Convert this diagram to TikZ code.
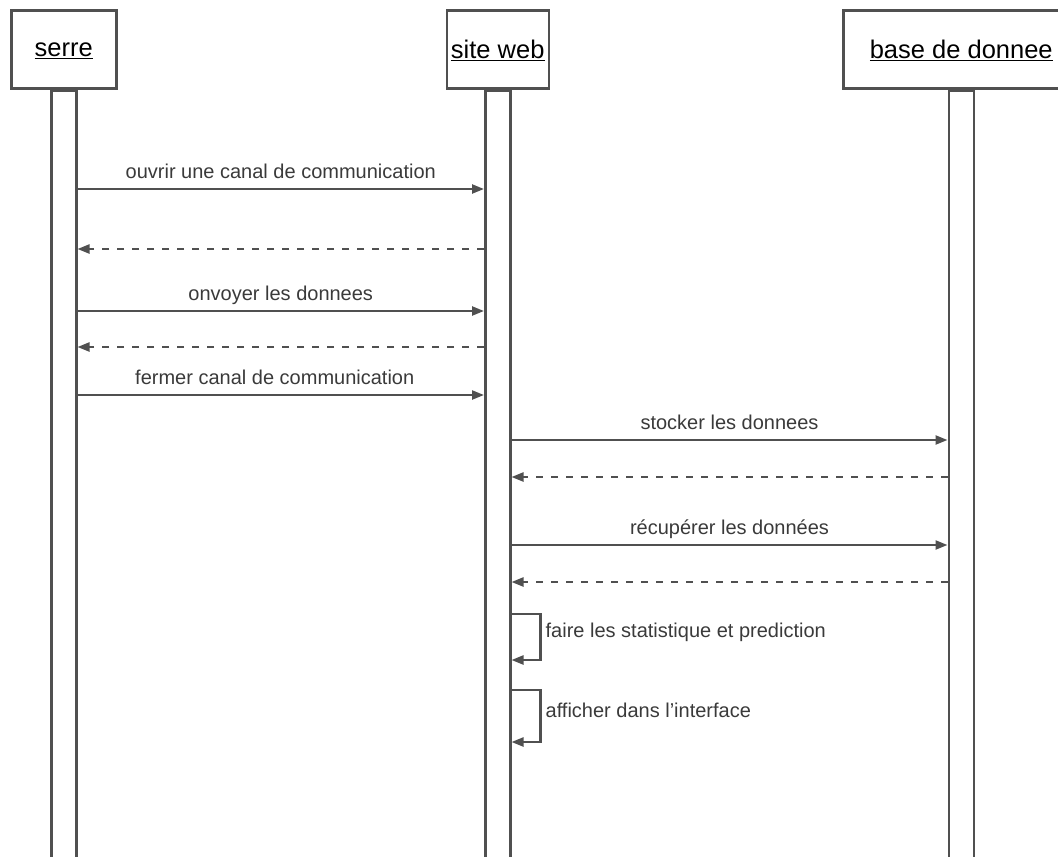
\documentclass[tikz,border=0pt]{standalone}
\usepackage{fontspec}
\setmainfont{Liberation Sans}
\usetikzlibrary{arrows.meta, positioning, calc}
\definecolor{linegray}{HTML}{505050}
\definecolor{textgray}{HTML}{3A3A3A}

\tikzset{
    header/.style={draw=linegray, line width=2.5pt, rectangle, fill=white, minimum height=78pt, inner sep=0pt, text depth=0pt, font=\fontsize{25.5}{30}\selectfont},
    lifebar/.style={draw=linegray, line width=2.5pt, rectangle, fill=white, minimum width=25pt, minimum height=769pt, inner sep=0pt},
    msg/.style={draw=linegray, line width=2.3pt, -{Triangle[length=12pt, width=9pt]}},
    reply/.style={msg, dash pattern=on 7pt off 8pt},
    msglabel/.style={text=textgray, inner sep=0pt, font=\fontsize{20}{24}\selectfont},
}

\begin{document}
\begin{tikzpicture}[x=1pt, y=-1pt]
    \useasboundingbox (0,0) rectangle (1058,857);
    \node[header, minimum width=105pt, anchor=north west] (serre) at (10,9) {\underline{serre}};
    \node[header, minimum width=102pt, right=328pt of serre] (web) {\underline{site web}};
    \node[header, minimum width=236pt, right=292pt of web] (bdd) {\underline{base de donnee}\hspace{12pt}};
    \node[lifebar, below=0pt of serre] (serrebar) {};
    \node[lifebar, below=0pt of web] (webbar) {};
    \node[lifebar, below=0pt of bdd] (bddbar) {};

    \draw[msg] (serrebar.east |- 0,189) -- node[msglabel, anchor=base, yshift=11pt] {ouvrir une canal de communication} (webbar.west |- 0,189);
    \draw[reply] (webbar.west |- 0,249) -- (serrebar.east |- 0,249);
    \draw[msg] (serrebar.east |- 0,311) -- node[msglabel, anchor=base, yshift=11pt] {onvoyer les donnees} (webbar.west |- 0,311);
    \draw[reply] (webbar.west |- 0,347) -- (serrebar.east |- 0,347);
    \draw[msg] (serrebar.east |- 0,395) -- node[msglabel, anchor=base, yshift=11pt, xshift=-6pt] {fermer canal de communication} (webbar.west |- 0,395);

    \draw[msg] (webbar.east |- 0,440) -- node[msglabel, anchor=base, yshift=11pt] {stocker les donnees} (bddbar.west |- 0,440);
    \draw[reply] (bddbar.west |- 0,477) -- (webbar.east |- 0,477);
    \draw[msg] (webbar.east |- 0,545) -- node[msglabel, anchor=base, yshift=11pt] {récupérer les données} (bddbar.west |- 0,545);
    \draw[reply] (bddbar.west |- 0,582) -- (webbar.east |- 0,582);

    \draw[msg] (webbar.east |- 0,614) -- ++(29,0) |- node[msglabel, anchor=west, pos=0.2, xshift=4pt] {faire les statistique et prediction} (webbar.east |- 0,660);
    \draw[msg] (webbar.east |- 0,690) -- ++(29,0) |- node[msglabel, anchor=west, pos=0.2, xshift=4pt] {afficher dans l'interface} (webbar.east |- 0,742);
\end{tikzpicture}
\end{document}
